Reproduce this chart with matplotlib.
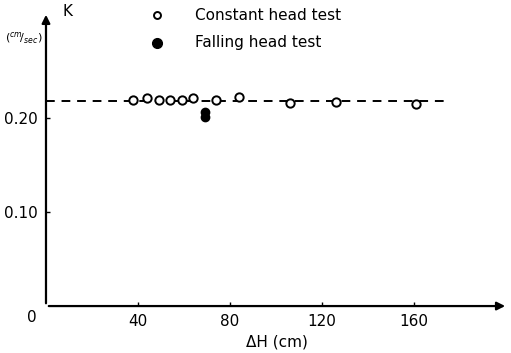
import matplotlib.pyplot as plt

# constant head test points
dh_const = [38, 44, 49, 54, 59, 64, 74, 84, 106, 126, 161]
k_const = [0.219, 0.221, 0.219, 0.219, 0.219, 0.221, 0.219, 0.223, 0.216, 0.217, 0.215]
# falling head test points
dh_fall = [69, 69]
k_fall = [0.207, 0.201]
# mean line
k_mean = 0.218
line_x = [0, 176]

x_ticks = [40, 80, 120, 160]
y_ticks = [0.10, 0.20]
y_ticklabels = ["0.10", "0.20"]

fig = plt.figure(figsize=(5.11, 3.53), dpi=100)
ax = fig.add_axes([0.090, 0.133, 0.904, 0.833])
ax.set_xlim(0, 201)
ax.set_ylim(0, 0.313)

for s in ax.spines.values():
    s.set_visible(False)

# axes with arrows
ax.annotate("", xy=(1.0, 0), xytext=(0, 0), xycoords="axes fraction",
            arrowprops=dict(arrowstyle="-|>", color="black", lw=1.6, mutation_scale=12))
ax.annotate("", xy=(0, 1.0), xytext=(0, 0), xycoords="axes fraction",
            arrowprops=dict(arrowstyle="-|>", color="black", lw=1.6, mutation_scale=12))

ax.plot(line_x, [k_mean, k_mean], color="black", lw=1.4, dashes=(4.5, 3.5), zorder=1)
ax.plot(dh_const, k_const, "o", mfc="white", mec="black", mew=1.4, ms=6, zorder=3)
ax.plot(dh_fall, k_fall, "o", color="black", ms=6, zorder=3)

ax.set_xticks(x_ticks)
ax.set_xticklabels([str(v) for v in x_ticks])
ax.set_yticks(y_ticks)
ax.set_yticklabels(y_ticklabels)
ax.tick_params(direction="in", length=3, width=1, labelsize=11, pad=6)

ax.text(-4, -0.004, "0", fontsize=11, ha="right", va="top")
ax.set_xlabel("ΔH (cm)", fontsize=11, labelpad=4)

fig.text(68 / 511, 1 - 12 / 353, "K", fontsize=11, ha="center", va="center")
fig.text(24 / 511, 1 - 38 / 353, r"$(^{cm}\!/_{sec})$", fontsize=8,
         ha="center", va="center")

# legend drawn by hand
fig.lines.append(plt.Line2D([157 / 511], [1 - 15 / 353], marker="o", mfc="white",
                            mec="black", mew=1.4, ms=5, transform=fig.transFigure))
fig.lines.append(plt.Line2D([157 / 511], [1 - 43 / 353], marker="o", color="black",
                            ms=7, transform=fig.transFigure))
fig.text(195 / 511, 1 - 15 / 353, "Constant head test", fontsize=11, va="center")
fig.text(195 / 511, 1 - 43 / 353, "Falling head test", fontsize=11, va="center")

fig.savefig("out.png", dpi=100)
